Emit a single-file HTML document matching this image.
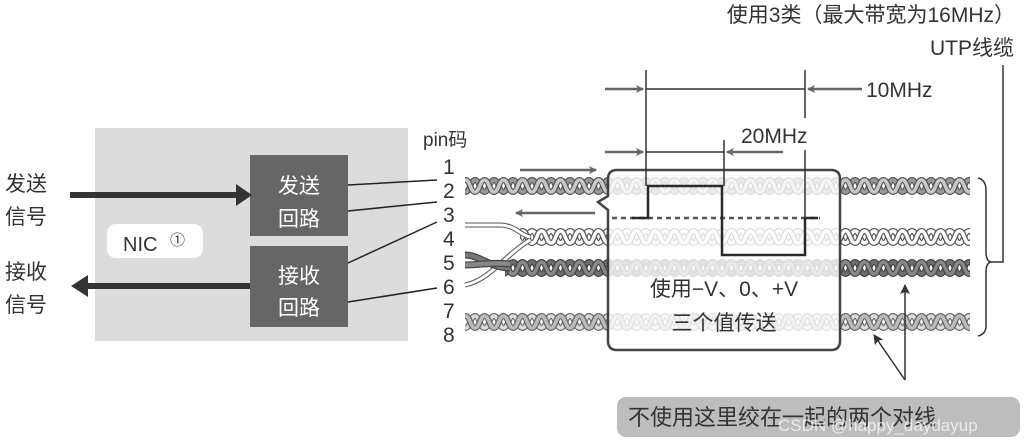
<!DOCTYPE html>
<html><head><meta charset="utf-8"><style>
html,body{margin:0;padding:0;background:#fff;}
svg{display:block;font-family:"Liberation Sans","Noto Sans CJK SC",sans-serif;}
</style></head><body>
<svg width="1024" height="444" viewBox="0 0 1024 444" xmlns="http://www.w3.org/2000/svg">
<defs>
<pattern id="pg" patternUnits="userSpaceOnUse" width="19" height="24" x="0" y="0">
<g fill="none"><path d="M0,6 C4.75,6 4.75,18 9.5,18 C14.25,18 14.25,6 19,6" stroke="#555" stroke-width="6"/><path d="M0,6 C4.75,6 4.75,18 9.5,18 C14.25,18 14.25,6 19,6" stroke="#9a9a9a" stroke-width="3.5"/>
<path d="M0,18 C4.75,18 4.75,6 9.5,6 C14.25,6 14.25,18 19,18" stroke="#555" stroke-width="6"/><path d="M0,18 C4.75,18 4.75,6 9.5,6 C14.25,6 14.25,18 19,18" stroke="#c8c8c8" stroke-width="3.5"/></g>
</pattern>
<pattern id="pw" patternUnits="userSpaceOnUse" width="19" height="24" x="0" y="0">
<g fill="none"><path d="M0,6 C4.75,6 4.75,18 9.5,18 C14.25,18 14.25,6 19,6" stroke="#555" stroke-width="6"/><path d="M0,6 C4.75,6 4.75,18 9.5,18 C14.25,18 14.25,6 19,6" stroke="#fff" stroke-width="3.5"/>
<path d="M0,18 C4.75,18 4.75,6 9.5,6 C14.25,6 14.25,18 19,18" stroke="#555" stroke-width="6"/><path d="M0,18 C4.75,18 4.75,6 9.5,6 C14.25,6 14.25,18 19,18" stroke="#fff" stroke-width="3.5"/></g>
</pattern>
<pattern id="pd" patternUnits="userSpaceOnUse" width="19" height="24" x="0" y="0">
<g fill="none"><path d="M0,6 C4.75,6 4.75,18 9.5,18 C14.25,18 14.25,6 19,6" stroke="#444" stroke-width="6"/><path d="M0,6 C4.75,6 4.75,18 9.5,18 C14.25,18 14.25,6 19,6" stroke="#6e6e6e" stroke-width="3.5"/>
<path d="M0,18 C4.75,18 4.75,6 9.5,6 C14.25,6 14.25,18 19,18" stroke="#444" stroke-width="6"/><path d="M0,18 C4.75,18 4.75,6 9.5,6 C14.25,6 14.25,18 19,18" stroke="#888" stroke-width="3.5"/></g>
</pattern>
<pattern id="pl" patternUnits="userSpaceOnUse" width="19" height="24" x="0" y="0">
<g fill="none"><path d="M0,6 C4.75,6 4.75,18 9.5,18 C14.25,18 14.25,6 19,6" stroke="#666" stroke-width="6"/><path d="M0,6 C4.75,6 4.75,18 9.5,18 C14.25,18 14.25,6 19,6" stroke="#ddd" stroke-width="3.5"/>
<path d="M0,18 C4.75,18 4.75,6 9.5,6 C14.25,6 14.25,18 19,18" stroke="#666" stroke-width="6"/><path d="M0,18 C4.75,18 4.75,6 9.5,6 C14.25,6 14.25,18 19,18" stroke="#bbb" stroke-width="3.5"/></g>
</pattern>
<marker id="ah" markerWidth="8" markerHeight="8" refX="7" refY="4" orient="auto" markerUnits="userSpaceOnUse"><path d="M0,0 L8,4 L0,8 L2,4z" fill="#666"/></marker>
<marker id="ak" markerWidth="10" markerHeight="10" refX="9" refY="5" orient="auto" markerUnits="userSpaceOnUse"><path d="M0,0 L10,5 L0,10 L2,5z" fill="#333"/></marker>
</defs>

<!-- NIC -->
<rect x="95" y="128" width="313" height="213" fill="#dcdcdc"/>
<rect x="107" y="224" width="96" height="34" rx="9" fill="#fff"/>
<text x="123" y="251" font-size="20" fill="#333">NIC</text>
<text x="170" y="245" font-size="15" fill="#333">①</text>
<rect x="250" y="155" width="98" height="81" fill="#666"/>
<rect x="250" y="246" width="98" height="81" fill="#666"/>
<g font-size="21" fill="#fff" text-anchor="middle">
<text x="299" y="193">发送</text><text x="299" y="226">回路</text>
<text x="299" y="283">接收</text><text x="299" y="315">回路</text>
</g>
<g font-size="21" fill="#333">
<text x="5" y="191">发送</text><text x="5" y="224">信号</text>
<text x="5" y="279">接收</text><text x="5" y="312">信号</text>
</g>
<line x1="70" y1="195" x2="240" y2="195" stroke="#333" stroke-width="6"/>
<path d="M236,184 L252,195 L236,206z" fill="#333"/>
<line x1="86" y1="286" x2="250" y2="286" stroke="#333" stroke-width="6"/>
<path d="M88,275 L71,286 L88,297z" fill="#333"/>

<!-- pins -->
<text x="423" y="146" font-size="19" fill="#333">pin码</text>
<g font-size="21" fill="#333">
<text x="443" y="174">1</text><text x="443" y="198">2</text><text x="443" y="222">3</text><text x="443" y="246">4</text>
<text x="443" y="270">5</text><text x="443" y="294">6</text><text x="443" y="318">7</text><text x="443" y="342">8</text>
</g>
<g stroke="#222" stroke-width="1.5">
<line x1="348" y1="185" x2="437" y2="180"/>
<line x1="348" y1="211" x2="437" y2="202"/>
<line x1="348" y1="263" x2="437" y2="222"/>
<line x1="348" y1="302" x2="437" y2="288"/>
</g>

<!-- cables -->
<g transform="translate(0,174)"><rect x="465" y="0" width="505" height="24" fill="url(#pg)"/></g>
<g transform="translate(0,225)"><rect x="520" y="0" width="450" height="24" fill="url(#pw)"/></g>
<g transform="translate(0,256)"><rect x="505" y="0" width="465" height="24" fill="url(#pd)"/></g>
<g transform="translate(0,310)"><rect x="465" y="0" width="505" height="24" fill="url(#pl)"/></g>
<path d="M465,225 L500,225 C515,225 520,235 530,237" fill="none" stroke="#555" stroke-width="5"/>
<path d="M465,225 L500,225 C515,225 520,235 530,237" fill="none" stroke="#fff" stroke-width="3"/>
<path d="M465,285 C490,280 505,255 530,240" fill="none" stroke="#555" stroke-width="5"/>
<path d="M465,285 C490,280 505,255 530,240" fill="none" stroke="#fff" stroke-width="3"/>
<path d="M465,255 C480,255 490,268 510,268" fill="none" stroke="#444" stroke-width="7"/>
<path d="M465,255 C480,255 490,268 510,268" fill="none" stroke="#777" stroke-width="4.5"/>
<path d="M465,265 C480,265 490,262 510,264" fill="none" stroke="#444" stroke-width="7"/>
<path d="M465,265 C480,265 490,262 510,264" fill="none" stroke="#888" stroke-width="4.5"/>

<line x1="520" y1="170" x2="596" y2="170" stroke="#666" stroke-width="2.5" marker-end="url(#ah)"/>
<line x1="595" y1="213" x2="516" y2="213" stroke="#666" stroke-width="2.5" marker-end="url(#ah)"/>

<!-- callout -->
<path d="M617,170 L831,170 Q840,170 840,179 L840,341 Q840,350 831,350 L617,350 Q608,350 608,341 L608,210 L598,202 L608,196 L608,179 Q608,170 617,170z" fill="#fff" fill-opacity="0.8" stroke="#444" stroke-width="2.5"/>
<line x1="612" y1="218" x2="820" y2="218" stroke="#555" stroke-width="2.5" stroke-dasharray="5,4"/>
<path d="M632,218 L648,218 L648,186 L722,186 L722,255 L805,255 L805,218 L818,218" fill="none" stroke="#2a2a2a" stroke-width="2.5"/>
<text x="724" y="296" font-size="21" fill="#333" text-anchor="middle">使用−V、0、+V</text>
<text x="724" y="330" font-size="21" fill="#333" text-anchor="middle">三个值传送</text>

<!-- timing -->
<g stroke="#333" stroke-width="1.5">
<line x1="646" y1="70" x2="646" y2="186"/>
<line x1="805" y1="70" x2="805" y2="118"/>
<line x1="805" y1="150" x2="805" y2="218"/>
<line x1="724" y1="140" x2="724" y2="186"/>
<line x1="646" y1="89" x2="805" y2="89"/>
<line x1="646" y1="152" x2="724" y2="152"/>
</g>
<line x1="605" y1="89" x2="643" y2="89" stroke="#666" stroke-width="2.5" marker-end="url(#ah)"/>
<line x1="862" y1="89" x2="808" y2="89" stroke="#666" stroke-width="2.5" marker-end="url(#ah)"/>
<line x1="605" y1="152" x2="643" y2="152" stroke="#666" stroke-width="2.5" marker-end="url(#ah)"/>
<line x1="783" y1="152" x2="727" y2="152" stroke="#666" stroke-width="2.5" marker-end="url(#ah)"/>
<text x="866" y="97" font-size="21" fill="#333">10MHz</text>
<text x="741" y="143" font-size="21" fill="#333">20MHz</text>

<!-- top labels -->
<text x="1015" y="22" font-size="21" fill="#333" text-anchor="end">使用3类（最大带宽为16MHz）</text>
<text x="1014" y="55" font-size="21" fill="#333" text-anchor="end">UTP线缆</text>
<path d="M1003,65 L1003,262 L992,262" fill="none" stroke="#333" stroke-width="1.5"/>
<path d="M978,178 Q986,180 986,190 L986,252 Q986,262 992,262 Q986,262 986,272 L986,326 Q986,334 978,336" fill="none" stroke="#333" stroke-width="1.5"/>

<!-- bottom -->
<line x1="905" y1="380" x2="905" y2="285" stroke="#333" stroke-width="1.5" marker-end="url(#ak)"/>
<line x1="905" y1="380" x2="874" y2="335" stroke="#333" stroke-width="1.5" marker-end="url(#ak)"/>
<rect x="617" y="397" width="403" height="40" rx="9" fill="#bdbdbd"/>
<text x="628" y="425" font-size="22" fill="#333">不使用这里绞在一起的两个对线</text>
<text x="778" y="431" font-size="17" fill="#fff" fill-opacity="0.7">CSDN @happy_daydayup</text>
</svg>
</body></html>
